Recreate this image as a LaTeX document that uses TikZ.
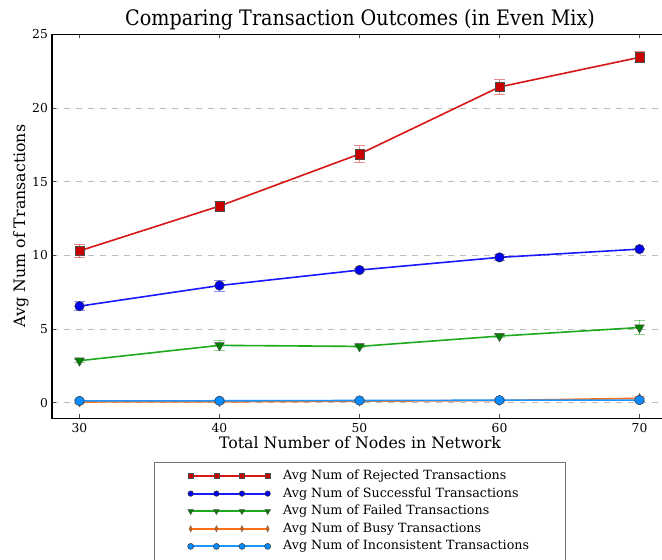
\documentclass[tikz,border=0pt]{standalone}
\usepackage{fontspec}
\setmainfont{DejaVu Serif}
\newfontfamily\condserif{DejaVu Serif Condensed}
\usetikzlibrary{shapes.geometric}

\definecolor{rejline}{RGB}{215,22,22}
\definecolor{rejfill}{RGB}{200,0,0}
\definecolor{sucline}{RGB}{25,25,255}
\definecolor{sucfill}{RGB}{0,0,240}
\definecolor{failline}{RGB}{30,170,30}
\definecolor{failfill}{RGB}{0,130,0}
\definecolor{busyline}{RGB}{255,110,20}
\definecolor{busyfill}{RGB}{230,90,0}
\definecolor{incline}{RGB}{25,150,255}
\definecolor{incfill}{RGB}{10,140,255}
\definecolor{gridgray}{RGB}{190,190,190}
\definecolor{legendedge}{RGB}{120,120,120}

\tikzset{
  spine/.style={line width=1.2pt, black},
  tickmark/.style={line width=0.5pt, black!70},
  gridline/.style={gridgray, line width=0.8pt, dash pattern=on 6pt off 6pt},
  ticklabel/.style={font=\fontsize{12.3}{14}\selectfont, inner sep=0pt},
  axislabel/.style={font=\fontsize{15.8}{18}\selectfont, inner sep=0pt},
  legendtext/.style={font=\fontsize{12.7}{14}\selectfont, inner sep=0pt, anchor=west},
  seriesline/.style={line width=1.6pt, line join=round},
  legline/.style={line width=1.9pt},
  errbar/.style={line width=0.9pt, opacity=0.5},
  sqmark/.style={rectangle, draw=black!70, line width=0.5pt, minimum size=#1, inner sep=0pt},
  dotmark/.style={circle, draw=black!80, line width=0.5pt, minimum size=#1, inner sep=0pt},
  trimark/.style={regular polygon, regular polygon sides=3, shape border rotate=180,
                  draw=black!70, line width=0.5pt, minimum size=#1, inner sep=0pt},
  dmdmark/.style={diamond, draw=black!60, line width=0.4pt, minimum width=0.5*#1,
                  minimum height=#1, inner sep=0pt},
}

\begin{document}
\begin{tikzpicture}[x=1pt,y=-1pt]
\useasboundingbox (0,0) rectangle (662,560);
\fill[white] (0,0) rectangle (662,560);
\begin{scope}
\clip (0,0) rectangle (662,560);

% ---------- plot area in data coordinates ----------
\begin{scope}[shift={(-340.5pt,-402.7pt)}, x=14pt, y=14.74pt]
  % horizontal grid
  \foreach \v in {0,5,10,15,20}
    \draw[gridline] (28.04,\v) -- (72,\v);

  % ticks
  \foreach \v in {30,40,50,60,70} {
    \draw[tickmark] (\v,-1.05) -- ++(0pt,4pt);
    \draw[tickmark] (\v,25) -- ++(0pt,-4pt);
    \node[ticklabel, anchor=base] (xt\v) at ([yshift=-14.5pt]\v,-1.05) {\v};
  }
  \foreach \v in {0,5,10,15,20,25} {
    \draw[tickmark] (28.04,\v) -- ++(4pt,0pt);
    \node[ticklabel, anchor=east] (yt\v) at ([xshift=-4pt]28.04,\v) {\v};
  }

  % rejected
  \draw[seriesline, rejline] plot coordinates {(30,10.3) (40,13.34) (50,16.87) (60,21.42) (70,23.43)};
  \foreach \px/\py/\pe in {30/10.3/0.45, 40/13.34/0.3, 50/16.87/0.57, 60/21.42/0.5, 70/23.43/0.38} {
    \draw[errbar, rejline] (\px,{\py-\pe}) -- (\px,{\py+\pe});
    \draw[errbar, rejline] ([xshift=-5.5pt]\px,{\py-\pe}) -- ([xshift=5.5pt]\px,{\py-\pe});
    \draw[errbar, rejline] ([xshift=-5.5pt]\px,{\py+\pe}) -- ([xshift=5.5pt]\px,{\py+\pe});
    \node[sqmark=9.5pt, fill=rejfill] (rej\px) at (\px,\py) {};
  }

  % successful
  \draw[seriesline, sucline] plot coordinates {(30,6.55) (40,7.95) (50,9.0) (60,9.86) (70,10.42)};
  \foreach \px/\py/\pe in {30/6.55/0.3, 40/7.95/0.37, 50/9.0/0.1, 60/9.86/0.18, 70/10.42/0.05} {
    \draw[errbar, sucline] (\px,{\py-\pe}) -- (\px,{\py+\pe});
    \draw[errbar, sucline] ([xshift=-5.5pt]\px,{\py-\pe}) -- ([xshift=5.5pt]\px,{\py-\pe});
    \draw[errbar, sucline] ([xshift=-5.5pt]\px,{\py+\pe}) -- ([xshift=5.5pt]\px,{\py+\pe});
    \node[dotmark=9.5pt, fill=sucfill] (suc\px) at (\px,\py) {};
  }

  % failed
  \draw[seriesline, failline] plot coordinates {(30,2.85) (40,3.89) (50,3.82) (60,4.52) (70,5.1)};
  \foreach \px/\py/\pe in {30/2.85/0.1, 40/3.89/0.36, 50/3.82/0.08, 60/4.52/0.1, 70/5.1/0.5} {
    \draw[errbar, failline] (\px,{\py-\pe}) -- (\px,{\py+\pe});
    \draw[errbar, failline] ([xshift=-5.5pt]\px,{\py-\pe}) -- ([xshift=5.5pt]\px,{\py-\pe});
    \draw[errbar, failline] ([xshift=-5.5pt]\px,{\py+\pe}) -- ([xshift=5.5pt]\px,{\py+\pe});
    \node[trimark=11pt, fill=failfill] (fail\px) at (\px,\py) {};
  }

  % busy
  \draw[seriesline, busyline] plot coordinates {(30,0.05) (40,0.06) (50,0.1) (60,0.15) (70,0.3)};
  \foreach \px/\py/\pe in {30/0.05/0.08, 40/0.06/0.08, 50/0.1/0.1, 60/0.15/0.1, 70/0.3/0.15} {
    \draw[errbar, busyline] (\px,{\py-\pe}) -- (\px,{\py+\pe});
    \draw[errbar, busyline] ([xshift=-5.5pt]\px,{\py-\pe}) -- ([xshift=5.5pt]\px,{\py-\pe});
    \draw[errbar, busyline] ([xshift=-5.5pt]\px,{\py+\pe}) -- ([xshift=5.5pt]\px,{\py+\pe});
    \node[dmdmark=10pt, fill=busyfill] (busy\px) at (\px,\py) {};
  }

  % inconsistent
  \draw[seriesline, incline] plot coordinates {(30,0.12) (40,0.13) (50,0.15) (60,0.17) (70,0.18)};
  \foreach \px/\py/\pe in {30/0.12/0.08, 40/0.13/0.08, 50/0.15/0.1, 60/0.17/0.1, 70/0.18/0.1} {
    \draw[errbar, incline] (\px,{\py-\pe}) -- (\px,{\py+\pe});
    \draw[errbar, incline] ([xshift=-5.5pt]\px,{\py-\pe}) -- ([xshift=5.5pt]\px,{\py-\pe});
    \draw[errbar, incline] ([xshift=-5.5pt]\px,{\py+\pe}) -- ([xshift=5.5pt]\px,{\py+\pe});
    \node[dotmark=9.5pt, fill=incfill] (inc\px) at (\px,\py) {};
  }

  % spines (right spine lies outside the page)
  \draw[spine] (72,25) -- (28.04,25) -- (28.04,-1.05) -- (72,-1.05);
\end{scope}

% ---------- titles ----------
\node[font=\condserif\fontsize{21.3}{25}\selectfont, inner sep=0pt, anchor=base] (title) at (360,25) {Comparing Transaction Outcomes (in Even Mix)};
\node[axislabel, anchor=base] (xlabel) at (360,448) {Total Number of Nodes in Network};
\node[axislabel, anchor=base, rotate=90] (ylabel) at (25,226) {Avg Num of Transactions};

% ---------- legend ----------
\draw[legendedge, line width=0.8pt, fill=white] (154,462) rectangle (565,580);
\foreach \name/\lc/\fc/\mk/\ms/\row/\txt in {
    rej/rejline/rejfill/sqmark/5pt/0/Avg Num of Rejected Transactions,
    suc/sucline/sucfill/dotmark/5.5pt/1/Avg Num of Successful Transactions,
    fail/failline/failfill/trimark/6.5pt/2/Avg Num of Failed Transactions,
    busy/busyline/busyfill/dmdmark/6.5pt/3/Avg Num of Busy Transactions,
    inc/incline/incfill/dotmark/6pt/4/Avg Num of Inconsistent Transactions} {
  \pgfmathsetmacro\ry{476+17.6*\row}
  \draw[legline, \lc] (190.7,\ry) -- (267.7,\ry);
  \foreach \k/\mx in {a/190.7, b/216.4, c/242, d/267.7}
    \node[\mk=\ms, fill=\fc] (lg\name\k) at (\mx,\ry) {};
  \node[legendtext] (lgt\name) at (283,\ry) {\txt};
}
\end{scope}
\end{tikzpicture}
\end{document}
